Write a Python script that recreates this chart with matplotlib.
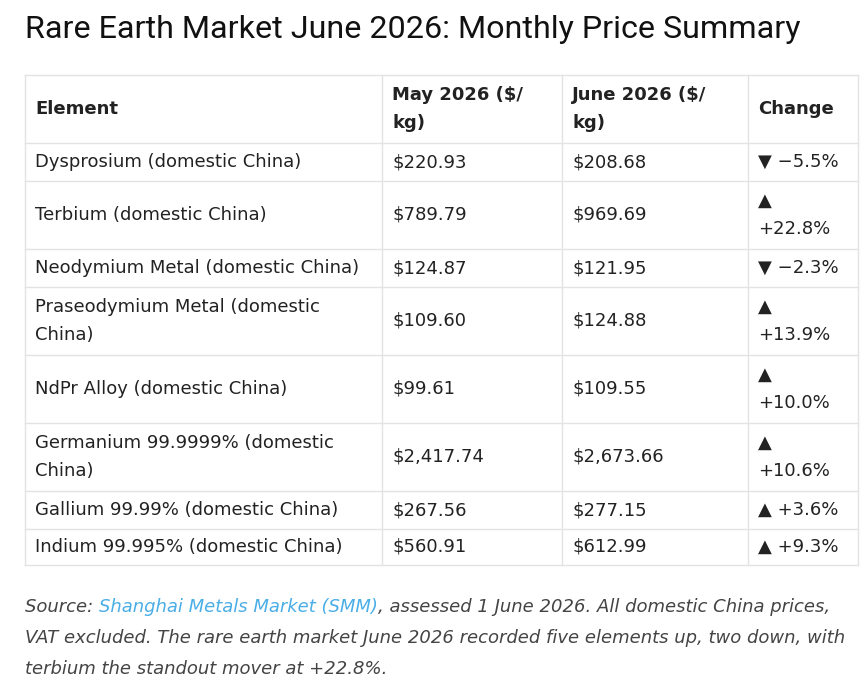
import matplotlib.pyplot as plt

# table data
headers = ['Element', 'May 2026 ($/\nkg)', 'June 2026 ($/\nkg)', 'Change']
elements = ['Dysprosium (domestic China)', 'Terbium (domestic China)',
            'Neodymium Metal (domestic China)', 'Praseodymium Metal (domestic\nChina)',
            'NdPr Alloy (domestic China)', 'Germanium 99.9999% (domestic\nChina)',
            'Gallium 99.99% (domestic China)', 'Indium 99.995% (domestic China)']
may = ['$220.93', '$789.79', '$124.87', '$109.60', '$99.61', '$2,417.74', '$267.56', '$560.91']
june = ['$208.68', '$969.69', '$121.95', '$124.88', '$109.55', '$2,673.66', '$277.15', '$612.99']
change = ['▼ −5.5%', '▲\n+22.8%', '▼ −2.3%', '▲\n+13.9%', '▲\n+10.0%', '▲\n+10.6%', '▲ +3.6%', '▲ +9.3%']

# layout in pixels
col_x = [25, 382, 562, 748, 858]
row_y = [75, 143, 181, 249, 287, 355, 423, 491, 529, 565]
line_c = '#e3e3e3'
txt_c = '#222222'

fig = plt.figure(figsize=(8.67, 6.86), dpi=100)
ax = fig.add_axes([0, 0, 1, 1])
ax.set_xlim(0, 867)
ax.set_ylim(686, 0)
ax.axis('off')

ax.text(25, 30, 'Rare Earth Market June 2026: Monthly Price Summary',
        fontsize=23.2, family='Roboto', color='#111111', va='center')

for y in row_y:
    ax.plot([col_x[0], col_x[-1]], [y, y], color=line_c, lw=1)
for x in col_x:
    ax.plot([x, x], [row_y[0], row_y[-1]], color=line_c, lw=1)

def cell(i, j, s, bold=False):
    yc = (row_y[i] + row_y[i + 1]) / 2
    ax.text(col_x[j] + 10, yc, s, fontsize=13, color=txt_c, va='center', ha='left',
            fontweight='bold' if bold else 'normal', linespacing=1.7,
            family='DejaVu Sans')

for j, h in enumerate(headers):
    cell(0, j, h, bold=True)
for i in range(len(elements)):
    for j, s in enumerate([elements[i], may[i], june[i], change[i]]):
        cell(i + 1, j, s)

# source note with coloured link
fig.canvas.draw()
r = fig.canvas.get_renderer()
note_c = '#444444'
kw = dict(fontsize=13, style='italic', va='center', family='DejaVu Sans')
t1 = ax.text(25, 607, 'Source: ', color=note_c, **kw)
w1 = t1.get_window_extent(r).width
t2 = ax.text(25 + w1, 607, 'Shanghai Metals Market (SMM)', color='#4aaee6', **kw)
w2 = t2.get_window_extent(r).width
ax.text(25 + w1 + w2, 607, ', assessed 1 June 2026. All domestic China prices,', color=note_c, **kw)
ax.text(25, 638, 'VAT excluded. The rare earth market June 2026 recorded five elements up, two down, with',
        color=note_c, **kw)
ax.text(25, 669, 'terbium the standout mover at +22.8%.', color=note_c, **kw)

fig.savefig('out.png', dpi=100)
